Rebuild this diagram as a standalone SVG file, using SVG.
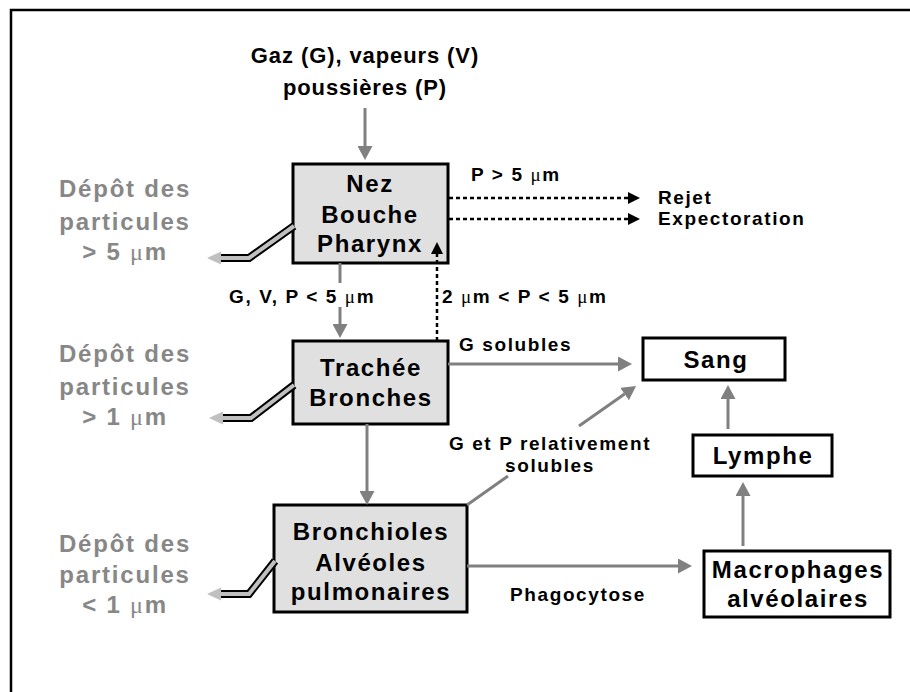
<svg xmlns="http://www.w3.org/2000/svg" width="910" height="692" viewBox="0 0 910 692">
<defs>
<style>
.frame{fill:none;stroke:#000;stroke-width:2.5}
.gbox{fill:#e0e0e0;stroke:#000;stroke-width:3}
.wbox{fill:#fff;stroke:#000;stroke-width:3}
.bt{font-family:"Liberation Sans",Arial,sans-serif;font-weight:bold;font-size:24px;letter-spacing:1.6px;fill:#000;text-anchor:middle}
.dep{font-family:"Liberation Sans",Arial,sans-serif;font-weight:bold;font-size:24px;letter-spacing:1.8px;fill:#878787;text-anchor:middle}
.lab{font-family:"Liberation Sans",Arial,sans-serif;font-weight:bold;font-size:19px;letter-spacing:1.6px;fill:#000}
.ttl{font-family:"Liberation Sans",Arial,sans-serif;font-weight:bold;font-size:22px;letter-spacing:0.9px;fill:#000;text-anchor:middle}
.mu{font-family:"Liberation Serif","Times New Roman",serif;font-weight:normal}
.gl{fill:none;stroke:#808080;stroke-width:3}
.dl{fill:none;stroke:#000;stroke-width:2.5;stroke-dasharray:4 3}
.hol1{fill:none;stroke:#000;stroke-width:8;stroke-linejoin:miter}
.hol2{fill:none;stroke:#c0c0c0;stroke-width:4;stroke-linejoin:miter}
</style>
<marker id="ga" markerUnits="userSpaceOnUse" markerWidth="14" markerHeight="15" refX="0" refY="7.5" orient="auto" viewBox="0 0 14 15">
<path d="M0,0 L14,7.5 L0,15 z" fill="#808080"/>
</marker>
<marker id="ba" markerUnits="userSpaceOnUse" markerWidth="12" markerHeight="12" refX="0" refY="6" orient="auto" viewBox="0 0 12 12">
<path d="M0,0 L12,6 L0,12 z" fill="#000"/>
</marker>
</defs>
<rect class="frame" x="11" y="10" width="905" height="700"/>

<g id="source">
<text class="ttl" x="365" y="63">Gaz (G), vapeurs (V)</text>
<text class="ttl" x="365" y="95">poussières (P)</text>
</g>

<g id="nez">
<rect class="gbox" x="293" y="164" width="155" height="99"/>
<text class="bt" x="370" y="192">Nez</text>
<text class="bt" x="370" y="223">Bouche</text>
<text class="bt" x="370" y="252">Pharynx</text>
</g>

<g id="trachee">
<rect class="gbox" x="293" y="341" width="155" height="83"/>
<text class="bt" x="371" y="376">Trachée</text>
<text class="bt" x="371" y="406">Bronches</text>
</g>

<g id="bronchioles">
<rect class="gbox" x="274" y="505" width="193" height="107"/>
<text class="bt" x="371" y="540">Bronchioles</text>
<text class="bt" x="371" y="571">Alvéoles</text>
<text class="bt" x="371" y="600">pulmonaires</text>
</g>

<g id="sang">
<rect class="wbox" x="643" y="338" width="142" height="42"/>
<text class="bt" x="716" y="368">Sang</text>
</g>

<g id="lymphe">
<rect class="wbox" x="693" y="435" width="139" height="41"/>
<text class="bt" x="763" y="464">Lymphe</text>
</g>

<g id="macrophages">
<rect class="wbox" x="704" y="551" width="186" height="66"/>
<text class="bt" x="798" y="578">Macrophages</text>
<text class="bt" x="798" y="607">alvéolaires</text>
</g>

<g id="rejet"><text class="lab" x="658" y="204">Rejet</text></g>
<g id="expectoration"><text class="lab" x="658" y="225">Expectoration</text></g>

<g id="depot1">
<text class="dep" x="125" y="197">Dépôt des</text>
<text class="dep" x="125" y="230">particules</text>
<text class="dep" x="125" y="260">&gt; 5 <tspan class="mu">μ</tspan>m</text>
</g>
<g id="depot2">
<text class="dep" x="125" y="362">Dépôt des</text>
<text class="dep" x="125" y="395">particules</text>
<text class="dep" x="125" y="425">&gt; 1 <tspan class="mu">μ</tspan>m</text>
</g>
<g id="depot3">
<text class="dep" x="125" y="552">Dépôt des</text>
<text class="dep" x="125" y="583">particules</text>
<text class="dep" x="125" y="613">&lt; 1 <tspan class="mu">μ</tspan>m</text>
</g>

<g id="connectors">
<path class="gl" d="M365,108 V146" marker-end="url(#ga)"/>
<path class="gl" d="M340,263 V283"/>
<path class="gl" d="M340,307 V324" marker-end="url(#ga)"/>
<path class="dl" d="M437,341 V254" marker-end="url(#ba)"/>
<path class="dl" d="M449,198 H628" marker-end="url(#ba)"/>
<path class="dl" d="M449,219 H628" marker-end="url(#ba)"/>
<path class="gl" d="M448,364 H618" marker-end="url(#ga)"/>
<path class="gl" d="M367,424 V491" marker-end="url(#ga)"/>
<path class="gl" d="M467,505 L508,476"/>
<path class="gl" d="M579,426 L624.6,394.1" marker-end="url(#ga)"/>
<path class="gl" d="M467,566 H678" marker-end="url(#ga)"/>
<path class="gl" d="M743,546 V496" marker-end="url(#ga)"/>
<path class="gl" d="M728,429 V399" marker-end="url(#ga)"/>
<path class="hol1" d="M294,226 L249,258 L221,258"/>
<path class="hol2" d="M294,226 L249,258 L219,258"/>
<path d="M221,251.5 L207,258 L221,264.5 z" fill="#c0c0c0"/>
<path class="hol1" d="M294,385 L251,418 L223,418"/>
<path class="hol2" d="M294,385 L251,418 L221,418"/>
<path d="M223,411.5 L209,418 L223,424.5 z" fill="#c0c0c0"/>
<path class="hol1" d="M275,561 L249,594 L221,594"/>
<path class="hol2" d="M275,561 L249,594 L219,594"/>
<path d="M221,587.5 L207,594 L221,600.5 z" fill="#c0c0c0"/>
</g>

<g id="labels">
<text class="lab" x="471" y="181">P &gt; 5 <tspan class="mu">μ</tspan>m</text>
<text class="lab" x="229" y="303">G, V, P &lt; 5 <tspan class="mu">μ</tspan>m</text>
<text class="lab" x="442" y="303">2 <tspan class="mu">μ</tspan>m &lt; P &lt; 5 <tspan class="mu">μ</tspan>m</text>
<text class="lab" x="459" y="351">G solubles</text>
<text class="lab" x="550" y="450" text-anchor="middle">G et P relativement</text>
<text class="lab" x="550" y="472" text-anchor="middle">solubles</text>
<text class="lab" x="578" y="601" text-anchor="middle">Phagocytose</text>
</g>
</svg>
